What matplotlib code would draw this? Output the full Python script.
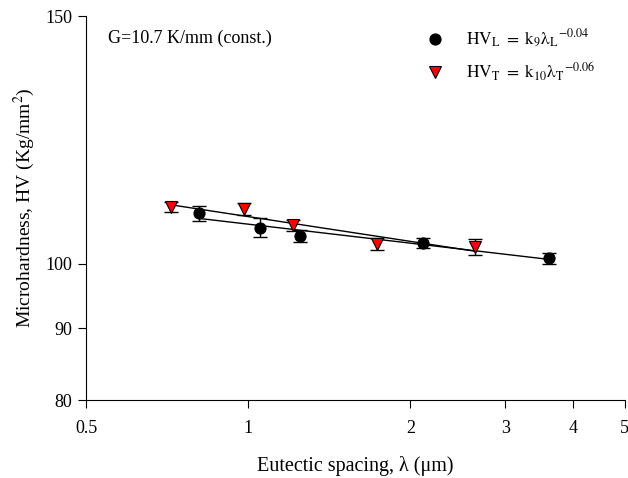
"""
Microhardness vs eutectic spacing, log-log with power-law fits.
"""

import numpy as np
import matplotlib.pyplot as plt
from matplotlib.ticker import FixedLocator, FixedFormatter, NullLocator

plt.rcParams['font.family'] = ['Liberation Serif', 'DejaVu Serif']
plt.rcParams['mathtext.fontset'] = 'stix'

# ── Data ────────────────────────────────────────────────────────────────
LAMBDA_L = np.array([0.81, 1.05, 1.25, 2.11, 3.61])
HV_L     = np.array([108.6, 106.1, 104.7, 103.4, 100.9])
ERR_L    = np.array([1.3, 1.6, 1.0, 0.85, 0.9])

LAMBDA_T = np.array([0.72, 0.98, 1.21, 1.73, 2.63])
HV_T     = np.array([109.8, 109.4, 106.5, 103.3, 102.8])
ERR_T    = np.array([0.9, 1.1, 1.0, 1.0, 1.3])

X_TICKS = [0.5, 1, 2, 3, 4, 5]
Y_TICKS = [80, 90, 100, 150]

LABEL_L = r'$\mathrm{HV_L\ =\ k_9λ_L}^{\mathrm{-0.04}}$'
LABEL_T = r'$\mathrm{HV_T\ =\ k_{10}λ_T}^{\mathrm{-0.06}}$'


def power_fit(x, y):
    """Fit y = k * x^n in log space, return (k, n)."""
    n, logk = np.polyfit(np.log(x), np.log(y), 1)
    return np.exp(logk), n


fig = plt.figure(figsize=(6.28, 4.78), dpi=100)
ax = fig.add_axes([0.137, 0.163, 0.858, 0.8035])

for x, y, err, marker, color, label in [
        (LAMBDA_L, HV_L, ERR_L, 'o', 'black', LABEL_L),
        (LAMBDA_T, HV_T, ERR_T, 'v', 'red', LABEL_T)]:
    k, n = power_fit(x, y)
    xs = np.linspace(x.min(), x.max(), 100)
    ax.plot(xs, k * xs ** n, color='black', lw=1.0, zorder=2)
    ax.errorbar(x, y, yerr=err, fmt='none', ecolor='black', elinewidth=1.0,
                capsize=5, capthick=1.0, zorder=3)
    ax.plot(x, y, linestyle='none', marker=marker, markersize=8,
            markerfacecolor=color, markeredgecolor='black', markeredgewidth=0.8,
            zorder=4, label=label)

ax.set_xscale('log')
ax.set_yscale('log')
ax.set_xlim(0.5, 5)
ax.set_ylim(80, 150)

ax.xaxis.set_major_locator(FixedLocator(X_TICKS))
ax.xaxis.set_major_formatter(FixedFormatter([f'{t:g}' for t in X_TICKS]))
ax.xaxis.set_minor_locator(NullLocator())
ax.yaxis.set_major_locator(FixedLocator(Y_TICKS))
ax.yaxis.set_major_formatter(FixedFormatter([f'{t:g}' for t in Y_TICKS]))
ax.yaxis.set_minor_locator(NullLocator())

ax.tick_params(direction='out', length=6, width=0.8, labelsize=13, pad=4)
ax.tick_params(axis='x', pad=8)
ax.spines['top'].set_visible(False)
ax.spines['right'].set_visible(False)

ax.set_xlabel('Eutectic spacing, λ (μm)', fontsize=14.5, labelpad=14)
ax.set_ylabel(r'Microhardness, HV (Kg/mm$^2$)', fontsize=14, labelpad=6)

ax.text(0.04, 0.93, 'G=10.7 K/mm (const.)', transform=ax.transAxes, fontsize=13)

ax.legend(loc='upper right', bbox_to_anchor=(0.975, 1.01), frameon=False,
          fontsize=12.5, handlelength=1.0, handletextpad=1.3, labelspacing=0.6)

fig.savefig('out.png', dpi=100)
